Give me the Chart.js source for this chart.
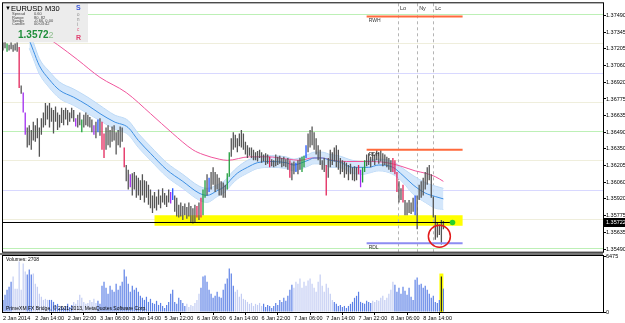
<!DOCTYPE html>
<html>
<head>
<meta charset="utf-8">
<script src="https://cdn.jsdelivr.net/npm/chart.js@4.4.1/dist/chart.umd.min.js"></script>
<style>
  html, body { margin: 0; padding: 0; background: #fff; }
  #wrap { position: relative; width: 625px; height: 323px; overflow: hidden; }
  #priceChart { position: absolute; left: 0; top: 0; }
  #volChart { position: absolute; left: 0; top: 252px; }
</style>
</head>
<body>
<div id="wrap">
  <canvas id="priceChart" width="625" height="255"></canvas>
  <canvas id="volChart" width="625" height="71"></canvas>
</div>
<script>
// EURUSD M30, one entry per bar (bar 0 = 2 Jan 2014)
const timeLabels = ['2 Jan 2014', '2 Jan 14:00', '2 Jan 22:00', '3 Jan 06:00', '3 Jan 14:00', '5 Jan 22:00', '6 Jan 06:00',
    '6 Jan 14:00', '6 Jan 22:00', '7 Jan 06:00', '7 Jan 14:00', '7 Jan 22:00', '8 Jan 06:00', '8 Jan 14:00'];
const barsPerLabel = 16;

const highs = [
    1.3726, 1.3728, 1.3725, 1.3724, 1.3726, 1.3724, 1.3725, 1.3726, 1.3722, 1.3689,
    1.3683, 1.3666, 1.3653, 1.3655, 1.3651, 1.3658, 1.3655, 1.3661, 1.3653, 1.3661,
    1.3666, 1.3674, 1.3672, 1.3674, 1.3670, 1.3668, 1.3671, 1.3666, 1.3664, 1.3670,
    1.3668, 1.3670, 1.3668, 1.3666, 1.3670, 1.3668, 1.3661, 1.3664, 1.3666, 1.3660,
    1.3664, 1.3666, 1.3664, 1.3662, 1.3660, 1.3655, 1.3658, 1.3660, 1.3661, 1.3658,
    1.3648, 1.3653, 1.3655, 1.3651, 1.3654, 1.3655, 1.3649, 1.3651, 1.3654, 1.3653,
    1.3636, 1.3621, 1.3617, 1.3613, 1.3614, 1.3615, 1.3612, 1.3610, 1.3608, 1.3613,
    1.3608, 1.3607, 1.3604, 1.3600, 1.3595, 1.3598, 1.3594, 1.3600, 1.3595, 1.3601,
    1.3597, 1.3595, 1.3600, 1.3598, 1.3601, 1.3595, 1.3593, 1.3587, 1.3589, 1.3586,
    1.3588, 1.3585, 1.3589, 1.3586, 1.3584, 1.3587, 1.3586, 1.3589, 1.3593, 1.3600,
    1.3608, 1.3613, 1.3610, 1.3615, 1.3619, 1.3615, 1.3613, 1.3610, 1.3607, 1.3606,
    1.3604, 1.3614, 1.3632, 1.3644, 1.3649, 1.3647, 1.3644, 1.3648, 1.3651, 1.3648,
    1.3641, 1.3638, 1.3636, 1.3636, 1.3634, 1.3632, 1.3633, 1.3634, 1.3632, 1.3630,
    1.3631, 1.3630, 1.3628, 1.3626, 1.3625, 1.3630, 1.3628, 1.3629, 1.3627, 1.3628,
    1.3626, 1.3627, 1.3625, 1.3623, 1.3624, 1.3623, 1.3625, 1.3627, 1.3628, 1.3629,
    1.3638, 1.3648, 1.3651, 1.3654, 1.3649, 1.3644, 1.3638, 1.3634, 1.3625, 1.3627,
    1.3621, 1.3627, 1.3634, 1.3632, 1.3636, 1.3638, 1.3634, 1.3627, 1.3625, 1.3624,
    1.3623, 1.3621, 1.3622, 1.3619, 1.3620, 1.3619, 1.3621, 1.3617, 1.3619, 1.3625,
    1.3630, 1.3631, 1.3628, 1.3632, 1.3630, 1.3634, 1.3632, 1.3634, 1.3631, 1.3630,
    1.3628, 1.3627, 1.3625, 1.3627, 1.3625, 1.3615, 1.3607, 1.3601, 1.3604, 1.3591,
    1.3589, 1.3591, 1.3589, 1.3593, 1.3595, 1.3595, 1.3604, 1.3607, 1.3610, 1.3615,
    1.3619, 1.3621, 1.3613, 1.3594, 1.3578, 1.3572, 1.3570, 1.3574, 1.3573
];
const lows = [
    1.3719, 1.3721, 1.3718, 1.3719, 1.3720, 1.3718, 1.3719, 1.3718, 1.3687, 1.3682,
    1.3666, 1.3647, 1.3636, 1.3638, 1.3634, 1.3642, 1.3641, 1.3644, 1.3628, 1.3647,
    1.3653, 1.3655, 1.3660, 1.3653, 1.3658, 1.3648, 1.3658, 1.3651, 1.3653, 1.3657,
    1.3655, 1.3660, 1.3655, 1.3658, 1.3661, 1.3658, 1.3654, 1.3653, 1.3655, 1.3649,
    1.3653, 1.3655, 1.3654, 1.3653, 1.3649, 1.3647, 1.3644, 1.3649, 1.3646, 1.3634,
    1.3627, 1.3634, 1.3638, 1.3636, 1.3641, 1.3642, 1.3630, 1.3638, 1.3636, 1.3641,
    1.3619, 1.3607, 1.3600, 1.3602, 1.3595, 1.3600, 1.3593, 1.3595, 1.3591, 1.3595,
    1.3589, 1.3593, 1.3587, 1.3584, 1.3580, 1.3584, 1.3582, 1.3587, 1.3584, 1.3589,
    1.3587, 1.3585, 1.3589, 1.3588, 1.3591, 1.3581, 1.3577, 1.3576, 1.3577, 1.3574,
    1.3578, 1.3575, 1.3577, 1.3572, 1.3571, 1.3572, 1.3576, 1.3574, 1.3576, 1.3578,
    1.3593, 1.3595, 1.3598, 1.3600, 1.3604, 1.3598, 1.3600, 1.3595, 1.3595, 1.3593,
    1.3593, 1.3600, 1.3611, 1.3628, 1.3634, 1.3636, 1.3632, 1.3637, 1.3636, 1.3634,
    1.3630, 1.3627, 1.3629, 1.3627, 1.3625, 1.3625, 1.3624, 1.3627, 1.3623, 1.3624,
    1.3621, 1.3622, 1.3619, 1.3620, 1.3619, 1.3620, 1.3621, 1.3622, 1.3619, 1.3620,
    1.3619, 1.3617, 1.3610, 1.3608, 1.3613, 1.3615, 1.3613, 1.3617, 1.3615, 1.3619,
    1.3627, 1.3632, 1.3636, 1.3638, 1.3634, 1.3630, 1.3625, 1.3621, 1.3617, 1.3615,
    1.3595, 1.3610, 1.3619, 1.3621, 1.3624, 1.3619, 1.3617, 1.3613, 1.3615, 1.3610,
    1.3613, 1.3608, 1.3613, 1.3608, 1.3607, 1.3608, 1.3613, 1.3602, 1.3606, 1.3615,
    1.3620, 1.3621, 1.3619, 1.3624, 1.3621, 1.3625, 1.3622, 1.3624, 1.3620, 1.3621,
    1.3619, 1.3617, 1.3615, 1.3615, 1.3613, 1.3598, 1.3589, 1.3591, 1.3589, 1.3578,
    1.3578, 1.3580, 1.3579, 1.3581, 1.3578, 1.3566, 1.3591, 1.3593, 1.3595, 1.3600,
    1.3604, 1.3608, 1.3593, 1.3576, 1.3557, 1.3559, 1.3561, 1.3553, 1.3566
];
const volumes = [
    1400, 1990, 2570, 2930, 3510, 4100, 2690, 2690, 5850, 2570,
    5620, 4680, 4330, 4910, 4330, 4450, 3280, 2930, 2110, 1760,
    1400, 1520, 1400, 1400, 1400, 1170, 820, 940, 470, 700,
    470, 700, 940, 590, 820, 1170, 940, 1400, 1990, 1640,
    1170, 940, 1050, 1400, 1170, 1520, 1050, 1290, 940, 3040,
    3510, 2810, 2110, 3040, 2570, 2340, 3280, 2570, 3040, 3510,
    4910, 4100, 3280, 2340, 3040, 2570, 2810, 2340, 1870, 1640,
    1400, 1760, 1170, 1520, 1050, 940, 1290, 820, 1050, 700,
    470, 820, 1170, 2110, 2570, 1170, 940, 1640, 1400, 1050,
    700, 940, 590, 820, 700, 1050, 1400, 2110, 2810, 4100,
    4210, 3510, 2570, 2110, 1640, 1870, 2340, 1760, 1640, 2570,
    3280, 3860, 5030, 4450, 3040, 2340, 2570, 1760, 2110, 1520,
    1400, 1170, 940, 1050, 700, 940, 820, 1050, 700, 940,
    590, 820, 700, 470, 700, 1050, 820, 1400, 1170, 1640,
    1290, 1870, 2570, 3160, 2810, 3510, 3280, 3860, 2810, 3510,
    3040, 3630, 3860, 3280, 2810, 2340, 3510, 4330, 3040, 2340,
    3280, 2810, 2110, 1400, 1170, 940, 700, 820, 590, 700,
    470, 700, 940, 1170, 1640, 1870, 2340, 1170, 1050, 940,
    1290, 1170, 1050, 1290, 1170, 1400, 1290, 1640, 1870, 1400,
    1640, 2110, 2570, 3510, 3160, 2340, 2810, 2110, 2930, 2460,
    1990, 2810, 1760, 1400, 3740, 3980, 3160, 3280, 2810, 3040,
    2570, 2110, 1640, 1870, 1170, 1050, 1400, 4100, 2708
];

// bar colouring of the Sonic R template (everything else is grey)
const greenBars = [2, 39, 99, 100, 111, 112, 148, 149, 178, 179];
const redBars = [8, 49, 50, 60, 96, 98, 132, 142, 160, 176, 193, 194, 195, 198];
const purpleBars = [10, 11, 36, 45, 63, 83, 177];
const blueBars = [47, 84, 102, 145, 150, 204];
const lightVolume = [[5, 11], [15, 22], [35, 46], [91, 97], [115, 128], [144, 163], [183, 193]];
const highlightBar = 217;

// Dragon band (EMA 34 high / close / low) and EMA 89, read at these bars
const dragonBars = [13, 15, 18, 23, 28, 35, 42, 48, 55, 62, 67, 73, 81, 89, 97, 101, 106, 110, 113, 116, 121, 126,
    133, 140, 144, 148, 151, 154, 158, 162, 166, 173, 178, 181, 186, 193, 198, 203, 209, 214, 218];
const dragonHigh = [1.3735, 1.3726, 1.3712, 1.3701, 1.3692, 1.3686, 1.3679, 1.3672, 1.3664, 1.3659, 1.3648, 1.3637,
    1.3623, 1.3613, 1.3603, 1.3601, 1.3604, 1.3608, 1.3614, 1.3619, 1.3625, 1.3628, 1.3629, 1.3628, 1.3626, 1.3628,
    1.3630, 1.3632, 1.3632, 1.3630, 1.3629, 1.3625, 1.3624, 1.3625, 1.3626, 1.3624, 1.3618, 1.3612, 1.3606, 1.3603, 1.3601];
const dragonMid = [1.3728, 1.3719, 1.3706, 1.3694, 1.3685, 1.3679, 1.3672, 1.3665, 1.3658, 1.3653, 1.3642, 1.3631,
    1.3617, 1.3607, 1.3597, 1.3595, 1.3599, 1.3603, 1.3609, 1.3614, 1.3619, 1.3623, 1.3624, 1.3623, 1.3621, 1.3623,
    1.3625, 1.3627, 1.3627, 1.3625, 1.3624, 1.3619, 1.3619, 1.3619, 1.3621, 1.3619, 1.3612, 1.3604, 1.3597, 1.3594, 1.3592];
const dragonLow = [1.3721, 1.3712, 1.3699, 1.3687, 1.3678, 1.3672, 1.3665, 1.3659, 1.3652, 1.3647, 1.3636, 1.3625,
    1.3611, 1.3601, 1.3591, 1.3589, 1.3594, 1.3598, 1.3604, 1.3609, 1.3614, 1.3618, 1.3619, 1.3618, 1.3616, 1.3618,
    1.3620, 1.3622, 1.3622, 1.3619, 1.3619, 1.3614, 1.3613, 1.3614, 1.3616, 1.3613, 1.3606, 1.3596, 1.3589, 1.3584, 1.3583];
const emaBars = [22, 27, 37, 48, 61, 73, 84, 94, 99, 107, 111, 122, 131, 141, 147, 153, 158, 163, 170, 180, 190, 197, 204, 209, 214, 218];
const ema89 = [1.3730, 1.3724, 1.3711, 1.3696, 1.3683, 1.3665, 1.3648, 1.3634, 1.3630, 1.3626, 1.3625, 1.3628, 1.3628,
    1.3626, 1.3625, 1.3627, 1.3627, 1.3625, 1.3624, 1.3624, 1.3623, 1.3620, 1.3616, 1.3614, 1.3611, 1.3607];

// price axis and levels
const priceTicks = [1.37490, 1.37345, 1.37205, 1.37060, 1.36920, 1.36775, 1.36635, 1.36490, 1.36350, 1.36205,
    1.36060, 1.35920, 1.35775, 1.35635, 1.35490];
const roundLevels = [1.3750, 1.3725, 1.3700, 1.3675, 1.3650, 1.3625, 1.3600, 1.3575, 1.3550];
const pivotNames = ['RWH', 'RDH', 'RDL'];
const pivotPrices = [1.3748, 1.3634, 1.3554];
const pivotBars = [180, 227.5];
const zonePrices = [1.3569, 1.3578];
const zoneBars = [75, 227.5];
const sessionNames = ['Lo', 'Ny', 'Lc'];
const sessionBars = [195.5, 205, 213];
const currentPrice = 1.35722;
const circleBar = 216, circlePrice = 1.3560;
const infoNames = ['Spread', 'Range', 'Swaps', 'Candle'];
const infoValues = ['0.60', '80, 82', '-0.66, 0.00', '00:03:42'];

const FONT = "'Liberation Sans', Arial, sans-serif";
Chart.defaults.font.family = FONT;
Chart.defaults.color = '#000';

function barColor(i) {
    if (greenBars.includes(i)) return '#1f9e3c';
    if (redBars.includes(i)) return '#e3245a';
    if (purpleBars.includes(i)) return '#a12cf0';
    if (blueBars.includes(i)) return '#2255ff';
    return '#555555';
}
const isLight = i => lightVolume.some(r => i >= r[0] && i <= r[1]);
const toPoints = (bars, vals) => bars.map((b, k) => ({ x: b, y: vals[k] }));

function hline(ctx, x1, x2, y) {
    ctx.beginPath(); ctx.moveTo(x1, y); ctx.lineTo(x2, y); ctx.stroke();
}

const priceOverlay = {
    id: 'priceOverlay',
    beforeDatasetsDraw(chart) {
        const { ctx, chartArea: a, scales: { x, y } } = chart;
        ctx.save();
        ctx.lineWidth = 1;
        roundLevels.forEach(lv => {
            const k = Math.round(lv * 10000) % 100;
            ctx.strokeStyle = k === 50 ? '#bdf0b6' : k === 0 ? '#d8d8ff' : '#efeedc';
            hline(ctx, a.left, a.right, Math.round(y.getPixelForValue(lv)) + 0.5);
        });
        // yellow support zone
        const zx1 = x.getPixelForValue(zoneBars[0]), zx2 = x.getPixelForValue(zoneBars[1]);
        const zTop = y.getPixelForValue(zonePrices[1]), zBot = y.getPixelForValue(zonePrices[0]);
        ctx.fillStyle = '#ffff00';
        ctx.fillRect(zx1, zTop, zx2 - zx1, zBot - zTop);
        // session separators
        ctx.strokeStyle = '#b4b4b4';
        ctx.setLineDash([3, 3]);
        sessionBars.forEach(b => {
            const px = Math.round(x.getPixelForValue(b)) + 0.5;
            ctx.beginPath(); ctx.moveTo(px, a.top); ctx.lineTo(px, a.bottom); ctx.stroke();
        });
        ctx.restore();
    },
    afterDatasetsDraw(chart) {
        const { ctx, chartArea: a, scales: { x, y } } = chart;
        ctx.save();
        // previous week / day levels
        ctx.lineWidth = 2;
        ctx.font = '5px ' + FONT;
        ctx.textBaseline = 'top';
        pivotNames.forEach((name, k) => {
            const py = y.getPixelForValue(pivotPrices[k]);
            const x1 = x.getPixelForValue(pivotBars[0]), x2 = x.getPixelForValue(pivotBars[1]);
            ctx.strokeStyle = name === 'RDL' ? '#8c8cf2' : '#ff6a3c';
            hline(ctx, x1, x2, py);
            ctx.fillStyle = '#333';
            ctx.fillText(name, x1 + 2, py + 2);
        });
        // current price line + marker
        const cy = Math.round(y.getPixelForValue(currentPrice)) + 0.5;
        const cx = x.getPixelForValue(222.5);
        ctx.lineWidth = 1;
        ctx.strokeStyle = '#000';
        hline(ctx, a.left, cx, cy);
        ctx.fillStyle = '#2ad02a';
        ctx.beginPath(); ctx.arc(cx, cy, 2.8, 0, Math.PI * 2); ctx.fill();
        // red circle round the last bars
        ctx.strokeStyle = '#e21b1b';
        ctx.lineWidth = 1.5;
        ctx.beginPath();
        ctx.arc(x.getPixelForValue(circleBar), y.getPixelForValue(circlePrice), 11, 0, Math.PI * 2);
        ctx.stroke();
        // session names
        ctx.fillStyle = '#333';
        ctx.font = '5.5px ' + FONT;
        sessionNames.forEach((s, k) => ctx.fillText(s, x.getPixelForValue(sessionBars[k]) + 2, a.top + 2));
        // info panel
        ctx.fillStyle = '#ececec';
        ctx.fillRect(a.left, a.top, 85, 39);
        ctx.fillStyle = '#000';
        ctx.font = '6px ' + FONT;
        ctx.fillText('\u25BC', a.left + 2, a.top + 2);
        ctx.font = '7.5px ' + FONT;
        ctx.fillText('EURUSD', a.left + 8, a.top + 1.5);
        ctx.fillText('M30', a.left + 42, a.top + 1.5);
        ctx.font = '4px ' + FONT;
        ctx.fillStyle = '#444';
        infoNames.forEach((n, k) => {
            ctx.fillText(n, a.left + 9, a.top + 9 + k * 3.3);
            ctx.fillText(infoValues[k], a.left + 31, a.top + 9 + k * 3.3);
        });
        ctx.font = 'bold 10px ' + FONT;
        ctx.fillStyle = '#1f8f3a';
        const big = currentPrice.toFixed(5);
        ctx.fillText(big.slice(0, -1), a.left + 15, a.top + 27);
        const w = ctx.measureText(big.slice(0, -1)).width;
        ctx.font = '9px ' + FONT;
        ctx.fillStyle = '#8fbf8f';
        ctx.fillText(big.slice(-1), a.left + 15 + w, a.top + 28);
        // Sonic R tag
        ctx.font = 'bold 7px ' + FONT;
        ctx.fillStyle = '#3a56d8';
        ctx.fillText('S', a.left + 73, a.top + 1);
        ctx.font = '4.5px ' + FONT;
        ctx.fillStyle = '#888';
        ['o', 'n', 'i'].forEach((c, k) => ctx.fillText(c, a.left + 74, a.top + 9 + k * 5));
        ctx.fillStyle = '#e06080';
        ctx.fillText('c', a.left + 74, a.top + 24);
        ctx.font = 'bold 7px ' + FONT;
        ctx.fillStyle = '#e04070';
        ctx.fillText('R', a.left + 73, a.top + 31);
        // price tag on the axis
        ctx.fillStyle = '#000';
        ctx.fillRect(a.right + 1, cy - 4.5, 22, 9);
        ctx.fillStyle = '#fff';
        ctx.font = '5.5px ' + FONT;
        ctx.textBaseline = 'middle';
        ctx.fillText(big, a.right + 3, cy);
        // frame
        ctx.strokeStyle = '#000';
        ctx.lineWidth = 1;
        ctx.strokeRect(a.left - 0.5, a.top - 0.5, a.width + 1, a.height + 1);
        ctx.restore();
    }
};

const volOverlay = {
    id: 'volOverlay',
    beforeDatasetsDraw(chart) {
        const { ctx, chartArea: a, scales: { x, y } } = chart;
        const px = x.getPixelForValue(highlightBar);
        const top = y.getPixelForValue(volumes[highlightBar]) - 3;
        ctx.save();
        ctx.fillStyle = '#ffff00';
        ctx.fillRect(px - 2, top, 4, a.bottom - top);
        ctx.restore();
    },
    afterDraw(chart) {
        const { ctx, chartArea: a } = chart;
        ctx.save();
        ctx.fillStyle = '#777';
        ctx.fillRect(0, 1, a.right, 2);
        ctx.fillStyle = '#000';
        ctx.font = '5px ' + FONT;
        ctx.textBaseline = 'top';
        ctx.fillText('Volumes: ' + volumes[volumes.length - 1], a.left + 3, a.top + 1);
        ctx.textBaseline = 'bottom';
        ctx.fillText('PrimeXM FX Bridge, \u00A9 2001-2013, MetaQuotes Software Corp.', a.left + 3, a.bottom - 1);
        ctx.strokeStyle = '#000';
        ctx.strokeRect(a.left - 0.5, a.top - 0.5, a.width + 1, a.height + 1);
        ctx.restore();
    }
};

// grafico de precios
new Chart(document.getElementById('priceChart'), {
    type: 'bar',
    data: {
        datasets: [
            {
                type: 'bar',
                data: highs.map((h, i) => ({ x: i, y: [lows[i], h] })),
                backgroundColor: ctx => barColor(ctx.dataIndex),
                barThickness: 1.3,
                inflateAmount: 0,
                order: 0
            },
            {
                type: 'line',
                data: toPoints(dragonBars, dragonHigh),
                borderColor: '#bcd9f6',
                backgroundColor: 'rgba(205, 227, 250, 0.85)',
                borderWidth: 1,
                fill: '+1',
                pointRadius: 0,
                cubicInterpolationMode: 'monotone',
                order: 4
            },
            {
                type: 'line',
                data: toPoints(dragonBars, dragonLow),
                borderColor: '#bcd9f6',
                borderWidth: 1,
                fill: false,
                pointRadius: 0,
                cubicInterpolationMode: 'monotone',
                order: 4
            },
            {
                type: 'line',
                data: toPoints(dragonBars, dragonMid),
                borderColor: '#3d8fe3',
                borderWidth: 1,
                pointRadius: 0,
                cubicInterpolationMode: 'monotone',
                order: 2
            },
            {
                type: 'line',
                data: toPoints(emaBars, ema89),
                borderColor: '#f0559c',
                borderWidth: 1,
                pointRadius: 0,
                cubicInterpolationMode: 'monotone',
                order: 2
            }
        ]
    },
    options: {
        responsive: false,
        animation: false,
        layout: { padding: { left: 3, top: 3, right: 0, bottom: 3 } },
        plugins: { legend: { display: false }, tooltip: { enabled: false } },
        scales: {
            x: { type: 'linear', min: 0, max: 297, offset: false, display: false },
            y: {
                position: 'right',
                min: 1.35468,
                max: 1.37594,
                afterBuildTicks: s => { s.ticks = priceTicks.map(v => ({ value: v })); },
                afterFit: s => { s.width = 22; },
                ticks: { callback: v => v.toFixed(5), font: { size: 5.5 }, padding: 0 },
                grid: { drawOnChartArea: false, tickLength: 3, color: '#000' },
                border: { color: '#000' }
            }
        }
    },
    plugins: [priceOverlay]
});

// grafico de volumen
new Chart(document.getElementById('volChart'), {
    type: 'bar',
    data: {
        datasets: [{
            data: volumes.map((v, i) => ({ x: i, y: v })),
            backgroundColor: ctx => ctx.dataIndex === highlightBar ? '#222' : isLight(ctx.dataIndex) ? '#c3cdf3' : '#5c80e6',
            barThickness: 1.2,
            inflateAmount: 0
        }]
    },
    options: {
        responsive: false,
        animation: false,
        layout: { padding: { left: 3, top: 4, right: 0, bottom: 0 } },
        plugins: { legend: { display: false }, tooltip: { enabled: false } },
        scales: {
            x: {
                type: 'linear', min: 0, max: 297, offset: false,
                afterBuildTicks: s => { s.ticks = timeLabels.map((t, k) => ({ value: k * barsPerLabel })); },
                afterFit: s => { s.height = 11; },
                ticks: {
                    callback: v => timeLabels[Math.round(v / barsPerLabel)],
                    align: 'start', maxRotation: 0, autoSkip: false, padding: 0,
                    font: { size: 5.5 }
                },
                grid: { drawOnChartArea: false, tickLength: 3, color: '#000' },
                border: { color: '#000' }
            },
            y: {
                position: 'right', min: 0, max: 6475,
                afterBuildTicks: s => { s.ticks = [{ value: 0 }, { value: 6475 }]; },
                afterFit: s => { s.width = 22; },
                ticks: { callback: v => String(v), font: { size: 5.5 }, padding: 0 },
                grid: { drawOnChartArea: false, tickLength: 3, color: '#000' },
                border: { color: '#000' }
            }
        }
    },
    plugins: [volOverlay]
});
</script>
</body>
</html>
